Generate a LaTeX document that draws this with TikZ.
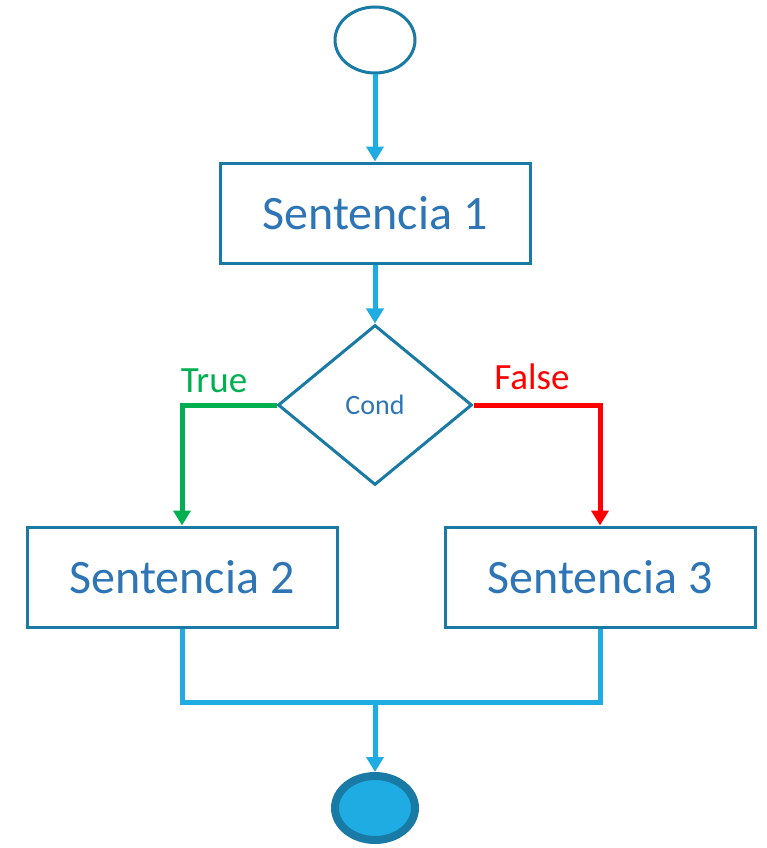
\documentclass[tikz,border=0pt]{standalone}
\usepackage{fontspec}
\setmainfont{Carlito}
\usetikzlibrary{shapes.geometric,arrows.meta}

\definecolor{edgeblue}{RGB}{24,122,165}
\definecolor{textblue}{RGB}{46,117,182}
\definecolor{flowblue}{RGB}{30,172,226}
\definecolor{truegreen}{RGB}{0,176,80}
\definecolor{falsered}{RGB}{255,0,0}

\tikzset{
    sentbox/.style={draw=edgeblue, line width=3pt, minimum width=310pt, minimum height=100pt,
        inner sep=0pt, text=textblue, font=\fontsize{48}{48}\selectfont},
    condbox/.style={diamond, draw=edgeblue, line width=3pt, minimum width=194pt, minimum height=160pt,
        inner sep=0pt, text=textblue, font=\fontsize{28}{28}\selectfont},
    flow/.style={line width=5pt, -{Triangle[width=17pt,length=15pt]}},
    branch/.style={line width=5pt},
}

\begin{document}
\begin{tikzpicture}[x=1pt, y=-1pt]
        \useasboundingbox (0,0) rectangle (767,848);

        %start and end
        \node[ellipse, draw=edgeblue, line width=3pt, minimum width=80pt, minimum height=66pt, inner sep=0pt] (start) at (375,40) {};
        \node[ellipse, draw=edgeblue, fill=flowblue, line width=8pt, minimum width=80pt, minimum height=64pt, inner sep=0pt] (stop) at (375,808) {};

        %sentences
        \node[sentbox] (sent1) at (375,213) {Sentencia 1};
        \node[sentbox] (sent2) at (182,577) {Sentencia 2};
        \node[sentbox] (sent3) at (600,577) {Sentencia 3};

        %condition
        \node[condbox] (cond) at (375,405) {Cond};

        %lines
        \draw[flow, flowblue] (start) -- (sent1);
        \draw[flow, flowblue] (sent1) -- (cond);
        \draw[flow, truegreen] (cond.west) -| (sent2.north);
        \draw[flow, falsered] (cond.east) -| (sent3.north);
        \coordinate (join) at (375,702);
        \draw[branch, flowblue] (sent2.south) |- (join) -| (sent3.south);
        \draw[flow, flowblue] (join) -- (stop);

        %labels
        \node[text=truegreen, font=\fontsize{37}{37}\selectfont] (truelbl) at (214,381) {True};
        \node[text=falsered, font=\fontsize{37}{37}\selectfont] (falselbl) at (532,377) {False};

\end{tikzpicture}
\end{document}
